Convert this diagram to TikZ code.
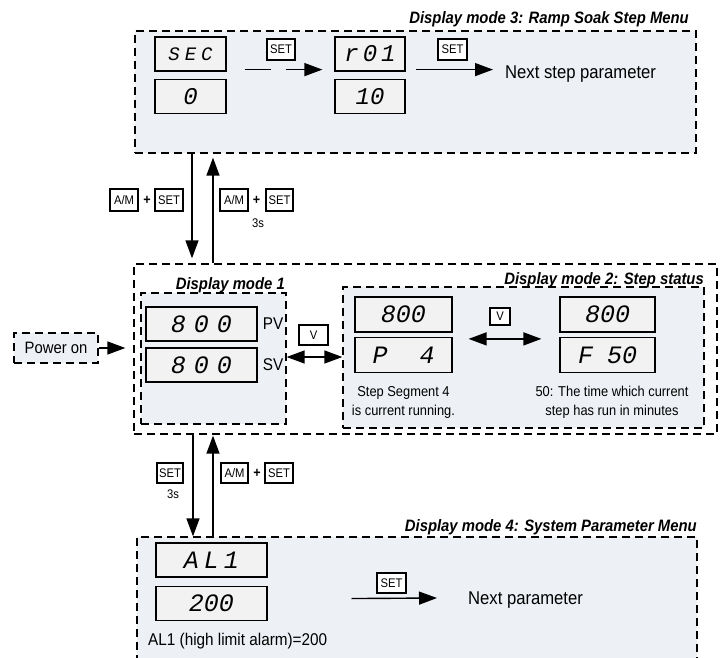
\documentclass[tikz,border=0pt]{standalone}
\usepackage{fontspec}
\setmainfont{Liberation Sans}[FakeStretch=0.9]
\newfontfamily\segfont{Liberation Mono}
\usetikzlibrary{arrows.meta}
\definecolor{panel}{RGB}{237,240,245}
\definecolor{lcd}{RGB}{242,242,242}
\newcommand\sg[1]{\hspace{#1pt}}
\tikzset{
  dsh/.style={draw, line width=1.3pt, dash pattern=on 8pt off 5pt, inner sep=0pt},
  panelbox/.style={dsh, fill=panel},
  lcdbox/.style={draw, line width=1.2pt, fill=lcd, inner sep=0pt,
    minimum width=#1, minimum height=34pt},
  seg/.style={font=\segfont\itshape\fontsize{#1}{#1}\selectfont},
  keybox/.style={draw, line width=1.1pt, fill=white, inner sep=0pt,
    font=\fontsize{12.5}{13}\selectfont},
  plus/.style={inner sep=0pt, font=\bfseries\fontsize{14}{14}\selectfont},
  small/.style={inner sep=0pt, font=\fontsize{12.5}{13}\selectfont},
  title/.style={inner sep=0pt, font=\bfseries\itshape\fontsize{16.5}{18}\selectfont},
  txt/.style={inner sep=0pt, font=\fontsize{18.5}{20}\selectfont},
  lbl/.style={inner sep=0pt, font=\fontsize{17}{18}\selectfont},
  note/.style={inner sep=0pt, align=center, font=\fontsize{14.3}{19}\selectfont},
  arr/.style={line width=1.4pt, -{Triangle[length=18pt,width=13pt]}},
  darr/.style={line width=1.4pt, {Triangle[length=18pt,width=13pt]}-{Triangle[length=18pt,width=13pt]}},
}
\begin{document}
\begin{tikzpicture}[x=1pt, y=-1pt]
\useasboundingbox (0,0) rectangle (721,658);

% ---------- Display mode 3 ----------
\node[panelbox, minimum width=561pt, minimum height=122pt] (m3) at (415.5,92) {};
\node[title, anchor=base east] (t3) at (689,24) {Display mode 3: Ramp Soak Step Menu};
\node[lcdbox=71pt, seg=19] (sec) at (190.5,54) {S\sg{5}E\sg{5}C};
\node[lcdbox=71pt, seg=24] (zero) at (190.5,96.5) {0};
\node[lcdbox=70pt, seg=24] (r01) at (370,54) {r\sg{4}0\sg{4}1};
\node[lcdbox=70pt, seg=24] (ten) at (370,96.5) {10};
\node[keybox, minimum width=28pt, minimum height=21pt] (set1) at (281,49.5) {SET};
\node[keybox, minimum width=29pt, minimum height=21pt] (set2) at (452.5,49.5) {SET};
\node[txt, anchor=west] (nsp) at (505,74) {Next step parameter};
\draw[arr, dash pattern=on 26pt off 15pt] ([xshift=18pt,yshift=2pt]sec.south east) -- ([xshift=-12pt,yshift=2pt]r01.south west);
\draw[arr] ([xshift=10pt,yshift=2pt]r01.south east) -- ([xshift=-12pt,yshift=2pt]r01.south east -| nsp.west);

% ---------- Outer box: modes 1 and 2 ----------
\node[dsh, minimum width=583pt, minimum height=170pt] (outer) at (425.5,349) {};

% mode 3 <-> mode 1 arrows
\draw[arr, shorten >=5pt] (m3.south -| 192,0) -- (outer.north -| 192,0);
\draw[arr, shorten >=4pt] (outer.north -| 213,0) -- (m3.south -| 213,0);
\node[keybox, minimum width=28pt, minimum height=22pt] (am1) at (124,200) {A/M};
\node[plus] (p1) at (147,200) {+};
\node[keybox, minimum width=28pt, minimum height=22pt] (s1) at (169,200) {SET};
\node[keybox, minimum width=28pt, minimum height=22pt] (am2) at (234,200) {A/M};
\node[plus] (p2) at (256.5,200) {+};
\node[keybox, minimum width=27pt, minimum height=22pt] (s2) at (279.5,200) {SET};
\node[small] (d3s) at (258,223) {3s};

% mode 1
\node[panelbox, minimum width=145pt, minimum height=131pt] (m1) at (213.5,358.5) {};
\node[title, anchor=base east] (t1) at (285,289) {Display mode 1};
\node[lcdbox=111pt, seg=25] (pv) at (201.5,324) {8\sg{8}0\sg{8}0};
\node[lcdbox=111pt, seg=25] (sv) at (201.5,365) {8\sg{8}0\sg{8}0};
\node[lbl] (pvl) at (273,324) {PV};
\node[lbl] (svl) at (273,365) {SV};

% power on
\node[panelbox, minimum width=84pt, minimum height=30pt, font=\fontsize{16.5}{18}\selectfont] (pwr) at (56,348) {Power on};
\draw[arr, shorten >=8pt] (pwr.east) -- (outer.west |- pwr.east);

% mode 2
\node[panelbox, minimum width=361pt, minimum height=141pt] (m2) at (523.5,357.5) {};
\node[title, anchor=base east] (t2) at (704,284) {Display mode 2: Step status};
\node[keybox, minimum width=29pt, minimum height=20pt] (v1) at (313.5,335) {V};
\draw[darr] (m1.east |- 0,357) -- (m2.west |- 0,357);
\node[lcdbox=97pt, minimum height=35pt, seg=25] (a800) at (403.5,314.5) {800};
\node[lcdbox=97pt, minimum height=35pt, seg=25] (p4) at (403.5,355) {P\sg{32}4};
\node[lcdbox=95pt, minimum height=35pt, seg=25] (b800) at (607.5,314.5) {800};
\node[lcdbox=95pt, minimum height=35pt, seg=25] (f50) at (607.5,355) {F\sg{14}50};
\node[keybox, minimum width=20pt, minimum height=17pt] (v2) at (500,316.5) {V};
\draw[darr] ([xshift=16pt,yshift=-2pt]p4.north east) -- ([xshift=-18pt,yshift=-2pt]f50.north west);
\node[note] (n1) at (403.5,402.5) {Step Segment 4\\is current running.};
\node[note] (n2) at (612,402.5) {50: The time which current\\step has run in minutes};

% ---------- Display mode 4 ----------
\begin{scope}
\clip (0,0) rectangle (721,658);
\node[panelbox, minimum width=560pt, minimum height=166pt] (m4) at (417,620) {};
\end{scope}
\node[title, anchor=base east] (t4) at (697,531) {Display mode 4: System Parameter Menu};
\draw[arr] (outer.south -| 193,0) -- (m4.north -| 193,0);
\draw[arr, shorten >=1pt] (m4.north -| 213,0) -- (outer.south -| 213,0);
\node[keybox, minimum width=26pt, minimum height=20pt] (s3) at (170,473) {SET};
\node[small] (e3s) at (173,494) {3s};
\node[keybox, minimum width=27pt, minimum height=20pt] (am3) at (234.5,473) {A/M};
\node[plus] (p3) at (257,473) {+};
\node[keybox, minimum width=28pt, minimum height=20pt] (s4) at (279,473) {SET};
\node[lcdbox=111pt, seg=25] (al1) at (211.5,560) {A\sg{5}L\sg{5}1};
\node[lcdbox=111pt, seg=25] (v200) at (211.5,603.5) {200};
\node[keybox, minimum width=29pt, minimum height=20pt] (s5) at (391.5,583) {SET};
\node[txt, anchor=west] (np) at (468,600) {Next parameter};
\draw[arr] ([xshift=-40pt,yshift=-5pt]s5.south) -- ([xshift=-31pt,yshift=2pt]np.west);
\node[inner sep=0pt, anchor=west, font=\fontsize{17}{18}\selectfont] (alt) at (148,641) {AL1 (high limit alarm)=200};
\end{tikzpicture}
\end{document}
